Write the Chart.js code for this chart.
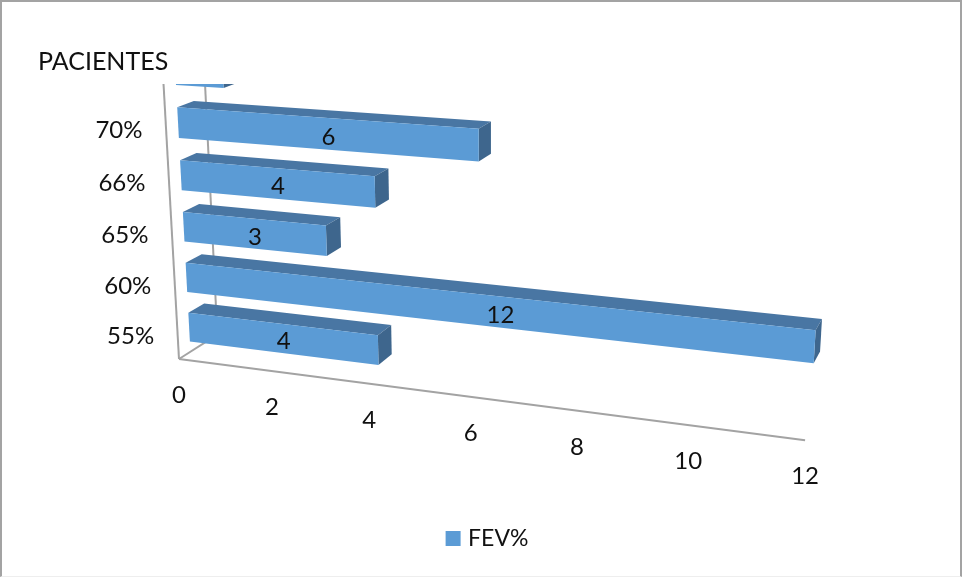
<!DOCTYPE html>
<html lang="es">
<head>
<meta charset="UTF-8">
<title>FEV%</title>
<script src="https://cdn.jsdelivr.net/npm/chart.js"></script>
<style>
  html, body { margin: 0; padding: 0; background: #fff; }
  #frame {
    position: relative;
    width: 962px;
    height: 577px;
    box-sizing: border-box;
    border: 2px solid #a3a3a3;
    border-bottom: 1px solid #eeeeee;
  }
  canvas { position: absolute; left: -2px; top: -2px; }
</style>
</head>
<body>
<div id="frame"><canvas id="chart" width="962" height="577"></canvas></div>
<script>
// Listed from the floor upwards; the top row is cut off by the title block
const categories = ['55%', '60%', '65%', '66%', '70%', ''];
const fevValues = [4, 12, 3, 4, 6, 1];
const seriesName = 'FEV%';
const titleText = 'PACIENTES';

const FONT = 'Lato, Carlito, sans-serif';
const COLORS = { front: '#5b9bd5', top: '#4976a3', side: '#3e668d', axis: '#a3a3a3', text: '#111111' };

// Three point perspective: origin of the plot box plus a vanishing point and weight per axis
const origin = [179, 359];
const axisX = { vp: [-4090, -195], s: -0.1279 };
const axisY = { vp: [490, 5886], s: -0.0536 };
const axisZ = { vp: [1150, -260], s: 0.0411 };

// u runs along the values, w up the categories, d into the depth of the box
function project(u, w, d) {
  const a = u * axisX.s, b = w * axisY.s, c = d * axisZ.s;
  const k = 1 + a + b + c;
  return [
    (origin[0] + a * axisX.vp[0] + b * axisY.vp[0] + c * axisZ.vp[0]) / k,
    (origin[1] + a * axisX.vp[1] + b * axisY.vp[1] + c * axisZ.vp[1]) / k
  ];
}

function polygon(ctx, pts, fill) {
  ctx.beginPath();
  pts.forEach((p, i) => i ? ctx.lineTo(p[0], p[1]) : ctx.moveTo(p[0], p[1]));
  ctx.closePath();
  ctx.fillStyle = fill;
  ctx.fill();
}

function line(ctx, a, b) {
  ctx.beginPath();
  ctx.moveTo(a[0], a[1]);
  ctx.lineTo(b[0], b[1]);
  ctx.stroke();
}

const BAR_FRONT = 0.29;
const BAR_BACK = 0.70;

const boxBars = {
  id: 'boxBars',
  // Replaces the flat bars with boxes placed from the scales' pixel positions
  beforeDatasetDraw(chart, args) {
    const { ctx, chartArea: area, scales } = chart;
    const toU = px => (px - area.left) / area.width;
    const toW = py => (area.bottom - py) / area.height;

    ctx.save();
    ctx.beginPath();
    ctx.rect(0, 84, chart.width, chart.height - 84);
    ctx.clip();

    // Walls of the plot box
    ctx.strokeStyle = COLORS.axis;
    ctx.lineWidth = 2;
    line(ctx, project(0, 0, 0), project(0, 1, 0));
    line(ctx, project(0, 0, 1), project(0, 1, 1));
    line(ctx, project(0, 0, 0), project(0, 0, 1));
    line(ctx, project(0, 0, 0), project(1, 0, 0));

    ctx.font = '24px ' + FONT;
    ctx.textAlign = 'center';
    ctx.textBaseline = 'middle';

    const bars = args.meta.data.map((el, i) => ({ el, i })).reverse();
    bars.forEach(({ el, i }) => {
      const u0 = toU(el.base), u1 = toU(el.x);
      const w0 = toW(el.y + el.height / 2), w1 = toW(el.y - el.height / 2);
      const f = [project(u0, w0, BAR_FRONT), project(u1, w0, BAR_FRONT), project(u1, w1, BAR_FRONT), project(u0, w1, BAR_FRONT)];
      const b = [project(u0, w0, BAR_BACK), project(u1, w0, BAR_BACK), project(u1, w1, BAR_BACK), project(u0, w1, BAR_BACK)];
      polygon(ctx, [f[3], f[2], b[2], b[3]], COLORS.top);
      polygon(ctx, [f[1], b[1], b[2], f[2]], COLORS.side);
      polygon(ctx, f, COLORS.front);
      const cx = (f[0][0] + f[1][0] + f[2][0] + f[3][0]) / 4;
      const cy = (f[0][1] + f[1][1] + f[2][1] + f[3][1]) / 4;
      ctx.fillStyle = COLORS.text;
      ctx.fillText(String(fevValues[i]), cx, cy + 3);
    });
    ctx.restore();

    // Tick labels follow the projected axes
    ctx.save();
    ctx.font = '24px ' + FONT;
    ctx.fillStyle = COLORS.text;
    ctx.textAlign = 'center';
    ctx.textBaseline = 'middle';
    scales.x.ticks.forEach(t => {
      const p = project(toU(scales.x.getPixelForValue(t.value)), 0, 0);
      ctx.fillText(String(t.value), p[0], p[1] + 36.5);
    });
    categories.forEach((label, i) => {
      const p = project(0, toW(scales.y.getPixelForValue(i)), 0);
      ctx.fillText(label, p[0] - 47, p[1] + 2.5);
    });
    ctx.restore();
    return false;
  }
};

new Chart(document.getElementById('chart'), {
  type: 'bar',
  data: {
    labels: categories,
    datasets: [{
      label: seriesName,
      data: fevValues,
      backgroundColor: COLORS.front,
      categoryPercentage: 1,
      barPercentage: 0.58
    }]
  },
  options: {
    indexAxis: 'y',
    responsive: false,
    animation: false,
    layout: { padding: { left: 38, right: 22, top: 47, bottom: 17 } },
    scales: {
      x: { display: false, min: 0, max: 12, ticks: { stepSize: 2 } },
      y: { display: false, reverse: true }
    },
    plugins: {
      tooltip: { enabled: false },
      title: {
        display: true,
        text: titleText,
        align: 'start',
        color: COLORS.text,
        font: { family: FONT, size: 25, weight: 'normal' },
        padding: 0
      },
      legend: {
        position: 'bottom',
        labels: {
          // narrow layout box so the square sits close to its text
          usePointStyle: true,
          pointStyle: 'rect',
          boxWidth: 7,
          boxHeight: 15,
          padding: 7,
          color: COLORS.text,
          font: { family: FONT, size: 23 }
        }
      }
    }
  },
  plugins: [boxBars]
});
</script>
</body>
</html>
